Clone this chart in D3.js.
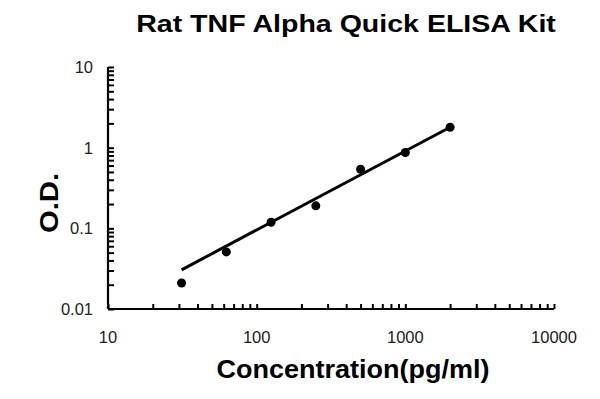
<!DOCTYPE html>
<html><head><meta charset="utf-8">
<script src="https://cdn.jsdelivr.net/npm/d3@7"></script>
<style>body{margin:0;background:#fff}svg{display:block}</style>
</head><body>
<script>
const title = "Rat TNF Alpha Quick ELISA Kit";
const xLabel = "Concentration(pg/ml)";
const yLabel = "O.D.";
const concentrations = [31.25, 62.5, 125, 250, 500, 1000, 2000];
const odValues = [0.021, 0.051, 0.119, 0.19, 0.54, 0.87, 1.79];
const fitX = [31.25, 2000];
const fitY = [0.0306, 1.79];
const xTicks = [10, 100, 1000, 10000];
const yTicks = [0.01, 0.1, 1, 10];

const W = 600, H = 399;
const svg = d3.select("body").append("svg").attr("width", W).attr("height", H);
const x = d3.scaleLog().domain([10, 10000]).range([108, 554]);
const y = d3.scaleLog().domain([0.01, 10]).range([309, 67]);
const FONT = "'Liberation Sans', Arial, sans-serif";

function minors(lo, hi) {
  const out = [];
  for (let d = lo; d < hi; d *= 10) for (let k = 1; k <= 10; k++) out.push(+(d * k).toPrecision(6));
  return Array.from(new Set(out));
}

// y axis
const ya = svg.append("g").attr("transform", "translate(108,0)")
  .call(d3.axisRight(y).tickValues(minors(0.01, 10)).tickSize(6).tickFormat(""));
ya.select(".domain").attr("d", `M0,${y(10)}V${y(0.01)}`).attr("stroke", "#000").attr("stroke-width", 2.2);
ya.selectAll(".tick line").attr("stroke", "#000").attr("stroke-width", 2);
svg.append("g").selectAll("text").data(yTicks).join("text")
  .attr("x", 93).attr("y", d => y(d) + 6).attr("text-anchor", "end")
  .attr("font-family", FONT).attr("font-size", 16.5).attr("fill", "#222")
  .text(d => d);

// x axis
const xa = svg.append("g").attr("transform", "translate(0,309)")
  .call(d3.axisTop(x).tickValues(minors(10, 10000)).tickSize(5).tickFormat(""));
xa.select(".domain").attr("d", `M${x(10)},0H${x(10000)}`).attr("stroke", "#000").attr("stroke-width", 2.2);
xa.selectAll(".tick line").attr("stroke", "#000").attr("stroke-width", 2);
svg.append("g").selectAll("text").data(xTicks).join("text")
  .attr("x", d => x(d)).attr("y", 343).attr("text-anchor", "middle")
  .attr("font-family", FONT).attr("font-size", 16.5).attr("fill", "#222")
  .text(d => d);

// fit line
svg.append("path")
  .attr("d", d3.line().x(d => x(d[0])).y(d => y(d[1]))(fitX.map((v, i) => [v, fitY[i]])))
  .attr("stroke", "#000").attr("stroke-width", 3).attr("fill", "none");

// points
svg.append("g").selectAll("circle").data(concentrations).join("circle")
  .attr("cx", d => x(d)).attr("cy", (d, i) => y(odValues[i])).attr("r", 4.5).attr("fill", "#000");

// titles
svg.append("text").attr("transform", "translate(346,32) scale(1.19,1)").attr("text-anchor", "middle")
  .attr("font-family", FONT).attr("font-weight", "bold").attr("font-size", 24)
  .text(title);
svg.append("text").attr("transform", "translate(353,378) scale(1.08,1)").attr("text-anchor", "middle")
  .attr("font-family", FONT).attr("font-weight", "bold").attr("font-size", 25)
  .text(xLabel);
svg.append("text").attr("transform", "translate(58,203) rotate(-90) scale(1.17,1)").attr("text-anchor", "middle")
  .attr("font-family", FONT).attr("font-weight", "bold").attr("font-size", 25)
  .text(yLabel);
</script>
</body></html>
